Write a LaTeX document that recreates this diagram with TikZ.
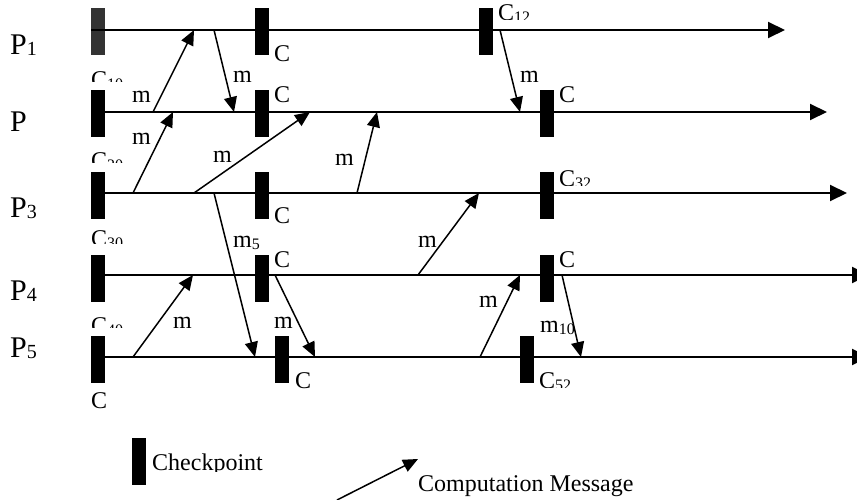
\documentclass[tikz,border=0pt]{standalone}
\usepackage{fontspec}
\setmainfont{Liberation Serif}
\usetikzlibrary{arrows.meta}

% small lowered index used in the labels
\newcommand{\lowsub}[1]{\raisebox{-2pt}{\fontsize{16}{18}\selectfont #1}}
\newcommand{\psub}[1]{\raisebox{-1pt}{\fontsize{20}{22}\selectfont #1}}
% label whose text box cuts the glyphs off at a given bottom edge
\newcommand{\cutlabel}[5]{%
  \begin{scope}
    \clip (#2-3,#3-30) rectangle (#2+250,#4);
    \node[lbl] (#1) at (#2,#3) {#5};
  \end{scope}}

\begin{document}
\begin{tikzpicture}[x=1pt,y=-1pt,
  ckpt/.style={fill=black, minimum width=14pt, minimum height=47pt, inner sep=0pt, outer sep=0pt},
  timeline/.style={line width=2pt, -{Triangle[length=17pt,width=16pt]}},
  msg/.style={line width=1.5pt, -{Triangle[length=15pt,width=13pt]}},
  lbl/.style={anchor=base west, inner sep=0pt, font=\fontsize{24}{28}\selectfont},
  plbl/.style={anchor=base west, inner sep=0pt, font=\fontsize{30}{34}\selectfont},
]
\useasboundingbox (0,0) rectangle (857,500);

% process names
\node[plbl] (n1) at (10,55)  {P\psub{1}};
\node[plbl] (n2) at (10,132) {P};
\node[plbl] (n3) at (10,217) {P\psub{3}};
\node[plbl] (n4) at (10,300) {P\psub{4}};
\node[plbl] (n5) at (10,357) {P\psub{5}};

% checkpoints
\node[ckpt, fill=black!80] (c10) at (98,32) {};
\node[ckpt] (c11) at (261.5,32) {};
\node[ckpt] (c12) at (486,32) {};
\node[ckpt] (c20) at (98,114) {};
\node[ckpt] (c21) at (261.5,114) {};
\node[ckpt] (c22) at (547,114) {};
\node[ckpt] (c30) at (98,195.5) {};
\node[ckpt] (c31) at (261.5,195.5) {};
\node[ckpt] (c32) at (547,195.5) {};
\node[ckpt] (c40) at (98,278) {};
\node[ckpt] (c41) at (261.5,278) {};
\node[ckpt] (c42) at (547,278) {};
\node[ckpt] (c50) at (98,359.5) {};
\node[ckpt] (c51) at (282,359.5) {};
\node[ckpt] (c52) at (527,359.5) {};

% time lines
\coordinate (p1s) at (91,30);  \coordinate (p1e) at (785,30);
\coordinate (p2s) at (91,112); \coordinate (p2e) at (827,112);
\coordinate (p3s) at (91,193); \coordinate (p3e) at (847,193);
\coordinate (p4s) at (91,275); \coordinate (p4e) at (869,275);
\coordinate (p5s) at (91,357); \coordinate (p5e) at (869,357);
\foreach \i in {1,...,5} {\draw[timeline] (p\i s) -- (p\i e);}

% checkpoint labels
\cutlabel{l10}{91}{88}{82}{C\lowsub{10}}
\node[lbl] (l11) at (274,62) {C};
\cutlabel{l12}{498}{21}{20}{C\lowsub{12}}
\cutlabel{l20}{91}{168}{163}{C\lowsub{20}}
\node[lbl] (l21) at (274,103) {C};
\node[lbl] (l22) at (559,103) {C};
\cutlabel{l30}{91}{246}{243}{C\lowsub{30}}
\node[lbl] (l31) at (274,223) {C};
\cutlabel{l32}{559}{186}{185}{C\lowsub{32}}
\cutlabel{l40}{91}{333}{327}{C\lowsub{40}}
\node[lbl] (l41) at (274,267) {C};
\node[lbl] (l42) at (559,267) {C};
\node[lbl] (l50) at (91,408) {C};
\node[lbl] (l51) at (295,388) {C};
\cutlabel{l52}{539}{388}{387}{C\lowsub{52}}

% computation messages
\coordinate (a1) at (153,112); \coordinate (b1) at (194,30);
\coordinate (a2) at (214,30);  \coordinate (b2) at (234,112);
\coordinate (a3) at (500,30);  \coordinate (b3) at (520,112);
\coordinate (a4) at (133,193); \coordinate (b4) at (173,112);
\coordinate (a5) at (194,193); \coordinate (b5) at (310,112);
\coordinate (a6) at (357,193); \coordinate (b6) at (377,112);
\coordinate (a7) at (214,193); \coordinate (b7) at (255,357);
\coordinate (a8) at (133,357); \coordinate (b8) at (193,275);
\coordinate (a9) at (275,275); \coordinate (b9) at (315,357);
\coordinate (a10) at (418,275); \coordinate (b10) at (479,193);
\coordinate (a11) at (480,357); \coordinate (b11) at (520,275);
\coordinate (a12) at (562,275); \coordinate (b12) at (581,357);
\foreach \i in {1,...,12} {\draw[msg] (a\i) -- (b\i);}

% message labels
\node[lbl] (t1) at (132,103) {m};
\node[lbl] (t2) at (233,83)  {m};
\node[lbl] (t3) at (520,83)  {m};
\node[lbl] (t4) at (132,145) {m};
\node[lbl] (t5) at (213,163) {m};
\node[lbl] (t6) at (335,165) {m};
\cutlabel{t7}{233}{247}{249}{m\lowsub{5}}
\node[lbl] (t8) at (173,328) {m};
\node[lbl] (t9) at (274,328) {m};
\node[lbl] (t10) at (418,247) {m};
\node[lbl] (t11) at (479,307) {m};
\node[lbl] (t12) at (540,332) {m\lowsub{10}};

% legend
\node[ckpt] (key) at (139,461.5) {};
\cutlabel{keytext}{152}{470}{471.5}{Checkpoint}
\coordinate (ka) at (337,500); \coordinate (kb) at (418,459);
\draw[msg] (ka) -- (kb);
\node[lbl] (msgtext) at (418,491) {Computation Message};
\end{tikzpicture}
\end{document}
